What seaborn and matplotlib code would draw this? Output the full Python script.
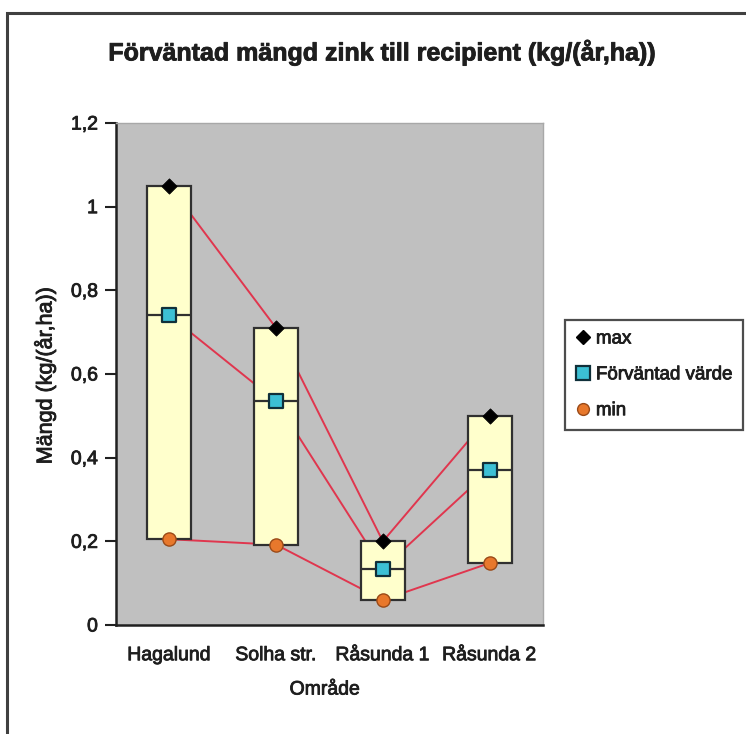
import matplotlib
matplotlib.use("Agg")
import matplotlib.pyplot as plt
import matplotlib.patheffects as pe
import seaborn as sns
import pandas as pd
import numpy as np
from matplotlib.lines import Line2D
from matplotlib.patches import Rectangle

# ---- data ----
categories = ["Hagalund", "Solha str.", "Råsunda 1", "Råsunda 2"]
max_vals = [1.05, 0.71, 0.20, 0.50]
expected_vals = [0.74, 0.535, 0.135, 0.37]
min_vals = [0.205, 0.192, 0.06, 0.148]
y_ticks = [0, 0.2, 0.4, 0.6, 0.8, 1.0, 1.2]
y_tick_labels = ["0", "0,2", "0,4", "0,6", "0,8", "1", "1,2"]

title = "Förväntad mängd zink till recipient (kg/(år,ha))"
xlabel = "Område"
ylabel = "Mängd (kg/(år,ha))"

sns.set_style("white")
plt.rcParams['font.family'] = ['Liberation Sans', 'DejaVu Sans']

W, H = 746, 734
fig = plt.figure(figsize=(W / 100, H / 100), dpi=100)

def fx(px):
    return px / W

def fy(py):
    return 1 - py / H

txt = "#1E1E1E"
heavy = [pe.withStroke(linewidth=0.6, foreground=txt)]

# outer chart border
fig.patches.append(Rectangle((fx(7), fy(760)), fx(800), fy(13) - fy(760),
                             transform=fig.transFigure, fill=False,
                             edgecolor="#404040", linewidth=2.2))

ax_left, ax_right, ax_top, ax_bottom = 116, 543, 123, 625
ax = fig.add_axes([fx(ax_left), fy(ax_bottom), fx(ax_right - ax_left),
                   fy(ax_top) - fy(ax_bottom)])
ax.set_facecolor("#C0C0C0")

x = np.arange(len(categories))
df = pd.DataFrame({"x": x, "cat": categories, "max": max_vals,
                   "exp": expected_vals, "min": min_vals})

red = "#E0364E"
for col in ["max", "exp", "min"]:
    sns.lineplot(data=df, x="x", y=col, ax=ax, color=red, linewidth=1.4,
                 zorder=1, legend=False)

# up-down boxes
bw = 0.41
heights = [mx - mn for mx, mn in zip(max_vals, min_vals)]
ax.bar(x, heights, bottom=min_vals, width=bw, color="#FFFFCC",
       edgecolor="#303030", linewidth=1.6, zorder=2)
ax.hlines(expected_vals, x - bw / 2, x + bw / 2, colors="#303030",
          linewidth=1.6, zorder=3)

sns.scatterplot(data=df, x="x", y="max", ax=ax, marker="D", s=60,
                color="black", edgecolor="black", zorder=4, legend=False)
sns.scatterplot(data=df, x="x", y="exp", ax=ax, marker="s", s=115,
                color="#3CC0D4", edgecolor="#10303A", linewidth=1.6,
                zorder=4, legend=False)
sns.scatterplot(data=df, x="x", y="min", ax=ax, marker="o", s=90,
                color="#E8782C", edgecolor="#9A4A18", linewidth=1.0,
                zorder=4, legend=False)

ax.set_xlim(-0.5, len(categories) - 0.5)
ax.set_ylim(0, 1.2)
ax.set_xticks(x)
ax.set_xticklabels(categories, fontsize=14, color=txt)
ax.set_xticks(np.arange(-0.5, len(categories), 1.0), minor=True)
ax.tick_params(axis="x", which="major", length=0, pad=16)
ax.tick_params(axis="x", which="minor", length=6, width=1.5, color="#202020",
               direction="out")
ax.set_yticks(y_ticks)
ax.set_yticklabels(y_tick_labels, fontsize=14, color=txt)
ax.tick_params(axis="y", length=8, width=1.5, color="#202020", direction="out",
               pad=5, left=True)
for t in ax.get_xticklabels() + ax.get_yticklabels():
    t.set_path_effects(heavy)
ax.set_xlabel("")
ax.set_ylabel("")
for s in ["left", "bottom"]:
    ax.spines[s].set_color("#202020")
    ax.spines[s].set_linewidth(1.8)
for s in ["top", "right"]:
    ax.spines[s].set_color("#A8A8A8")
    ax.spines[s].set_linewidth(1.0)

fig.text(fx(382), fy(52), title, ha="center", va="center", fontsize=18,
         fontweight="bold", color=txt, path_effects=heavy)
fig.text(fx(325), fy(690), xlabel, ha="center", va="center", fontsize=14,
         color=txt, path_effects=heavy)
fig.text(fx(45), fy(376), ylabel, ha="center", va="center", fontsize=15.5,
         rotation=90, color=txt, path_effects=heavy)

handles = [
    Line2D([], [], linestyle="none", marker="D", markersize=7.5,
           markerfacecolor="black", markeredgecolor="black"),
    Line2D([], [], linestyle="none", marker="s", markersize=9.5,
           markerfacecolor="#3CC0D4", markeredgecolor="#10303A",
           markeredgewidth=1.6),
    Line2D([], [], linestyle="none", marker="o", markersize=8.5,
           markerfacecolor="#E8782C", markeredgecolor="#9A4A18"),
]
leg = fig.legend(handles, ["max", "Förväntad värde", "min"],
                 loc="upper left", bbox_to_anchor=(fx(565), fy(320)),
                 frameon=True, fancybox=False, fontsize=13.5,
                 handlelength=0.8, handletextpad=0.3, labelspacing=1.0,
                 borderpad=0.55, borderaxespad=0)
for t in leg.get_texts():
    t.set_color(txt)
    t.set_path_effects(heavy)
leg.get_frame().set_edgecolor("#202020")
leg.get_frame().set_linewidth(1.6)

fig.savefig("out.png", dpi=100)
